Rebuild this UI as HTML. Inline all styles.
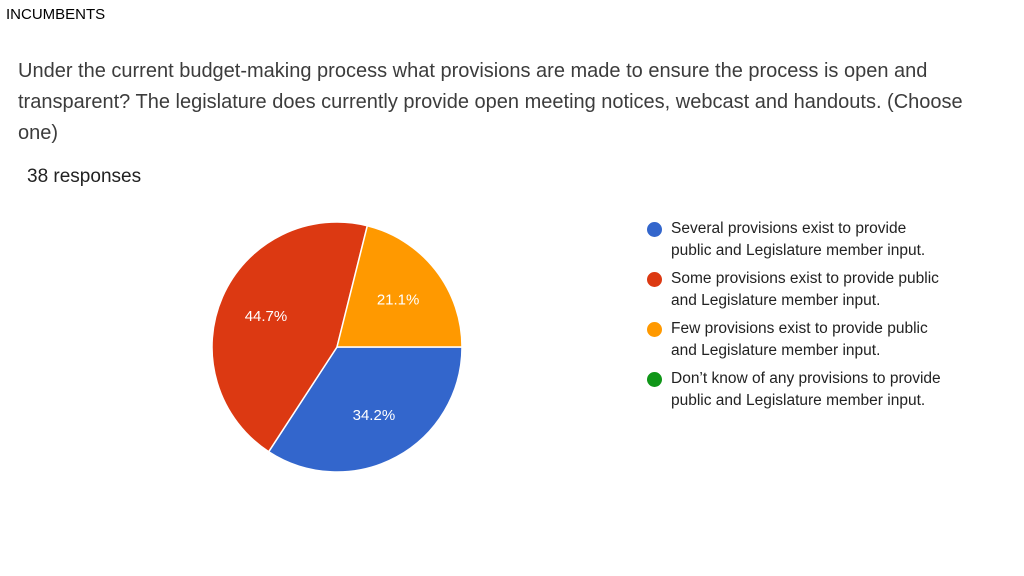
<!DOCTYPE html>
<html><head><meta charset="utf-8"><style>
body{margin:0;width:1024px;height:576px;background:#fff;font-family:"Liberation Sans",Arial,sans-serif;position:relative;overflow:hidden}
.abs{position:absolute}
#hdr{left:6px;top:6px;font-size:15px;color:#000}
#q{left:18px;top:56px;font-size:20px;line-height:31px;color:#3c3c3c;width:990px}
#resp{left:27px;top:166px;font-size:19px;color:#222}
.leg{position:absolute;left:648px;font-size:15.5px;line-height:22px;color:#222}
.dot{position:absolute;left:-1px;width:15px;height:15px;border-radius:50%}
.leg span.t{display:block;margin-left:23px}
</style></head><body>
<div class="abs" id="hdr">INCUMBENTS</div>
<div class="abs" id="q">Under the current budget-making process what provisions are made to ensure the process is open and transparent? The legislature does currently provide open meeting notices, webcast and handouts. (Choose one)</div>
<div class="abs" id="resp">38 responses</div>
<svg class="abs" style="left:0;top:0" width="1024" height="576" id="chart"></svg>
<div id="legend"></div>
<script>
const labels=["Several provisions exist to provide public and Legislature member input.","Some provisions exist to provide public and Legislature member input.","Few provisions exist to provide public and Legislature member input.","Don’t know of any provisions to provide public and Legislature member input."];
const legendLines=[["Several provisions exist to provide","public and Legislature member input."],["Some provisions exist to provide public","and Legislature member input."],["Few provisions exist to provide public","and Legislature member input."],["Don’t know of any provisions to provide","public and Legislature member input."]];
const values=[34.2,44.7,21.1,0];
const colors=["#3366cc","#dc3912","#ff9900","#109618"];
const svg=document.getElementById('chart');const NS="http://www.w3.org/2000/svg";
const cx=337,cy=347,r=125;let a=90;const tot=values.reduce((s,v)=>s+v,0);
function pt(deg,rr){const t=deg*Math.PI/180;return [cx+rr*Math.sin(t),cy-rr*Math.cos(t)];}
values.forEach((v,i)=>{if(v<=0)return;const sw=v/tot*360;const p0=pt(a,r),p1=pt(a+sw,r);
const p=document.createElementNS(NS,'path');
p.setAttribute('d',`M${cx},${cy}L${p0[0]},${p0[1]}A${r},${r} 0 ${sw>180?1:0} 1 ${p1[0]},${p1[1]}Z`);
p.setAttribute('fill',colors[i]);p.setAttribute('stroke','#fff');p.setAttribute('stroke-width','1.5');


svg.appendChild(p);
const lp=pt(a+sw/2,r*0.62);const t=document.createElementNS(NS,'text');
t.setAttribute('x',lp[0]);t.setAttribute('y',lp[1]+5);t.setAttribute('text-anchor','middle');
t.setAttribute('fill','#fff');t.setAttribute('font-size','15');t.setAttribute('font-family','Liberation Sans, Arial, sans-serif');
t.textContent=v.toFixed(1)+'%';


svg.appendChild(t);a+=sw;});
const lg=document.getElementById('legend');
legendLines.forEach((ls,i)=>{const d=document.createElement('div');d.className='leg';d.style.top=(218+i*50)+'px';


d.innerHTML=`<div class="dot" style="background:${colors[i]};top:4px"></div><span class="t">${ls[0]}</span><span class="t">${ls[1]}</span>`;lg.appendChild(d);});
</script>
</body></html>
